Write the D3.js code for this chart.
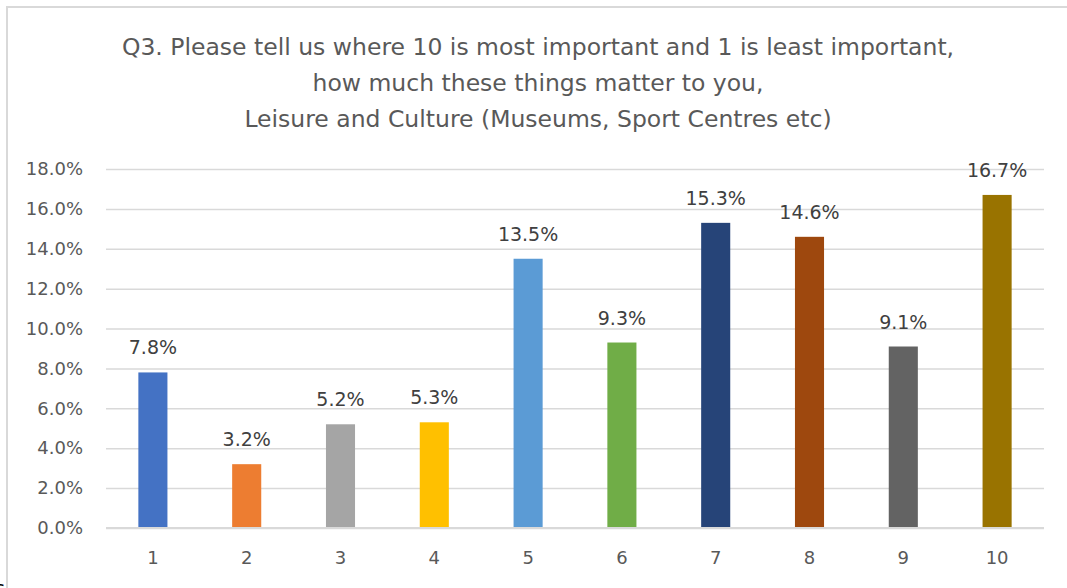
<!DOCTYPE html>
<html>
<head>
<meta charset="utf-8">
<script src="https://cdn.jsdelivr.net/npm/d3@7"></script>
<style>
  body { margin: 0; background: #fff; }
  svg { display: block; }
  text { font-family: "DejaVu Sans", "Open Sans", sans-serif; }
</style>
</head>
<body>
<div id="chart"></div>
<script>
'use strict';
const categories = ["1", "2", "3", "4", "5", "6", "7", "8", "9", "10"];
const values = [7.8, 3.2, 5.2, 5.3, 13.5, 9.3, 15.3, 14.6, 9.1, 16.7];
const colors = ['#4472C4', '#ED7D31', '#A5A5A5', '#FFC000', '#5B9BD5',
                '#70AD47', '#264478', '#9E480E', '#636363', '#997300'];
const yTicks = [0, 2, 4, 6, 8, 10, 12, 14, 16, 18];
const titleLines = [
    "Q3. Please tell us where 10 is most important and 1 is least important,",
    "how much these things matter to you,",
    "Leisure and Culture (Museums, Sport Centres etc)"
];

(() => {
    const width = 1067, height = 588;
    const margin = { top: 169, right: 23, bottom: 60, left: 106 };
    const rwidth = width - margin.left - margin.right;
    const rheight = height - margin.top - margin.bottom;

    const svg = d3.select("#chart").append("svg")
        .attr("width", width)
        .attr("height", height);

    // chart frame (only top and left edges are visible in the crop)
    svg.append("path")
        .attr("d", `M7,${height} V7 H${width}`)
        .attr("fill", "none")
        .attr("stroke", "#d9d9d9")
        .attr("stroke-width", 2);

    // clipped letter left of the frame
    svg.append("text")
        .attr("x", -5)
        .attr("y", 595)
        .style("font-size", "19px")
        .style("fill", "#000")
        .text("s");

    svg.selectAll(".title")
        .data(titleLines)
        .enter().append("text")
            .attr("x", 538)
            .attr("y", (d, i) => 55 + i * 36)
            .attr("text-anchor", "middle")
            .style("font-size", "23.5px")
            .style("fill", "#595959")
            .text(d => d);

    const g = svg.append("g")
        .attr("transform", `translate(${margin.left},${margin.top})`);

    const x = d3.scaleBand()
        .domain(categories)
        .range([0, rwidth])
        .paddingInner(0.69)
        .paddingOuter(0.345);

    const y = d3.scaleLinear()
        .domain([0, 18])
        .range([rheight, 0]);

    // gridlines
    g.append("g")
        .call(d3.axisLeft(y).tickValues(yTicks).tickSize(-rwidth).tickFormat(""))
        .call(a => a.select(".domain").remove())
        .call(a => a.selectAll("line").attr("stroke", "#d9d9d9").attr("stroke-width", 1.5));

    // y labels
    g.append("g")
        .attr("transform", "translate(-23,0)")
        .call(d3.axisLeft(y).tickValues(yTicks).tickSize(0).tickPadding(0)
            .tickFormat(d => d.toFixed(1) + "%"))
        .call(a => a.select(".domain").remove())
        .call(a => a.selectAll("text")
            .style("font-size", "18px")
            .style("fill", "#595959")
            .style("font-family", "'DejaVu Sans', sans-serif"));

    g.selectAll(".bar")
        .data(values)
        .enter().append("rect")
            .attr("x", (d, i) => x(categories[i]))
            .attr("y", d => y(d))
            .attr("width", x.bandwidth())
            .attr("height", d => rheight - y(d))
            .attr("fill", (d, i) => colors[i]);

    g.selectAll(".label")
        .data(values)
        .enter().append("text")
            .attr("x", (d, i) => x(categories[i]) + x.bandwidth() / 2)
            .attr("y", d => y(d) - 18)
            .attr("text-anchor", "middle")
            .style("font-size", "19px")
            .style("fill", "#404040")
            .text(d => d.toFixed(1) + "%");

    // x axis line + labels
    g.append("line")
        .attr("x1", 0).attr("x2", rwidth)
        .attr("y1", rheight).attr("y2", rheight)
        .attr("stroke", "#d9d9d9")
        .attr("stroke-width", 2);

    g.append("g")
        .attr("transform", `translate(0,${rheight})`)
        .call(d3.axisBottom(x).tickSize(0).tickPadding(23))
        .call(a => a.select(".domain").remove())
        .call(a => a.selectAll("text")
            .style("font-size", "18px")
            .style("fill", "#595959")
            .style("font-family", "'DejaVu Sans', sans-serif"));
})();
</script>
</body>
</html>
